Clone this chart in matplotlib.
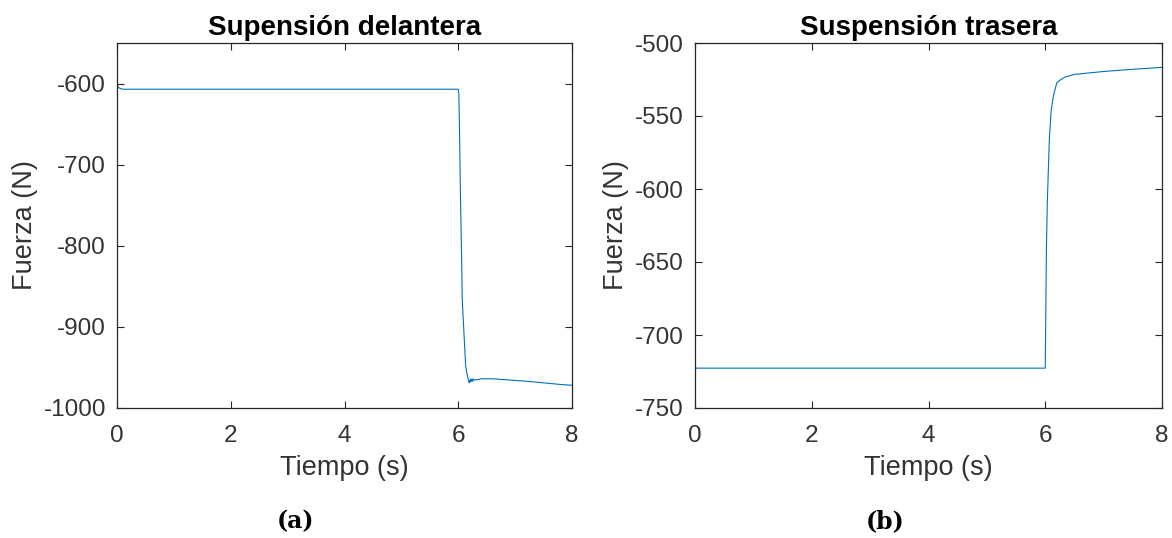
import matplotlib
matplotlib.use("Agg")
import matplotlib.pyplot as plt

# ---- data ----
t_front = [0, 0.02, 0.05, 0.1, 6.0, 6.01, 6.02, 6.04, 6.06, 6.07, 6.10, 6.13, 6.16,
           6.18, 6.19, 6.2, 6.21, 6.22, 6.23, 6.24, 6.25, 6.26, 6.28, 6.3, 6.35, 6.4,
           6.5, 6.6, 6.8, 7.0, 7.2, 7.5, 7.8, 8.0]
f_front = [-607, -604, -606, -607, -607, -612, -646, -743, -819, -866, -907, -948, -960,
           -966, -969, -966, -968, -964, -967, -965, -967, -964, -966, -965, -965, -964,
           -964, -964, -965, -966, -967, -969, -971, -972]

t_rear = [0, 6.0, 6.005, 6.02, 6.035, 6.05, 6.07, 6.1, 6.14, 6.2, 6.27, 6.33, 6.5,
          7.0, 7.5, 8.0]
f_rear = [-722.7, -722.7, -702, -641, -610, -591, -566, -547, -536, -527, -525, -523.5,
          -521.5, -519.5, -518, -516.7]

titles = ["Supensión delantera", "Suspensión trasera"]
captions = ["(a)", "(b)"]
xticks = [0, 2, 4, 6, 8]
yticks_front = [-1000, -900, -800, -700, -600]
yticks_rear = [-750, -700, -650, -600, -550, -500]
ylim_front = (-1000, -550)
ylim_rear = (-750, -500)

plt.rcParams['font.family'] = ['Liberation Sans', 'DejaVu Sans']
W, H = 1172, 538
fig = plt.figure(figsize=(W / 100, H / 100), dpi=100)

def px_axes(x0, y0, x1, y1):
    return fig.add_axes([x0 / W, 1 - y1 / H, (x1 - x0) / W, (y1 - y0) / H])

ax1 = px_axes(117, 43, 572, 408)
ax2 = px_axes(695, 43, 1162, 408)

color = '#0072BD'
edge = '#262626'
txt = '#333333'
specs = [
    (ax1, t_front, f_front, yticks_front, ylim_front),
    (ax2, t_rear, f_rear, yticks_rear, ylim_rear),
]
for i, (ax, t, f, yt, yl) in enumerate(specs):
    ax.plot(t, f, color=color, lw=0.8)
    ax.set_xlim(0, 8)
    ax.set_ylim(*yl)
    ax.set_xticks(xticks)
    ax.set_xticklabels([str(v) for v in xticks])
    ax.set_yticks(yt)
    ax.set_yticklabels([str(v) for v in yt])
    ax.tick_params(direction='in', length=5, width=0.8, colors=edge, labelsize=17.5,
                   top=True, right=True, labelcolor=txt)
    ax.tick_params(axis='x', pad=12)
    ax.tick_params(axis='y', pad=8)
    for s in ax.spines.values():
        s.set_color(edge)
        s.set_linewidth(0.9)
    ax.set_xlabel("Tiempo (s)", fontsize=19.5, color=txt, labelpad=6)
    ax.set_ylabel("Fuerza (N)", fontsize=19.5, color=txt, labelpad=4)
    ax.set_title(titles[i], fontsize=20, fontweight='bold', color='black', pad=6)

fig.text(295 / W, 1 - 521 / H, captions[0], ha='center', va='center',
         fontsize=17, fontweight='bold', family='DejaVu Serif')
fig.text(885 / W, 1 - 521 / H, captions[1], ha='center', va='center',
         fontsize=17, fontweight='bold', family='DejaVu Serif')

fig.savefig("out.png", dpi=100, facecolor='white')
